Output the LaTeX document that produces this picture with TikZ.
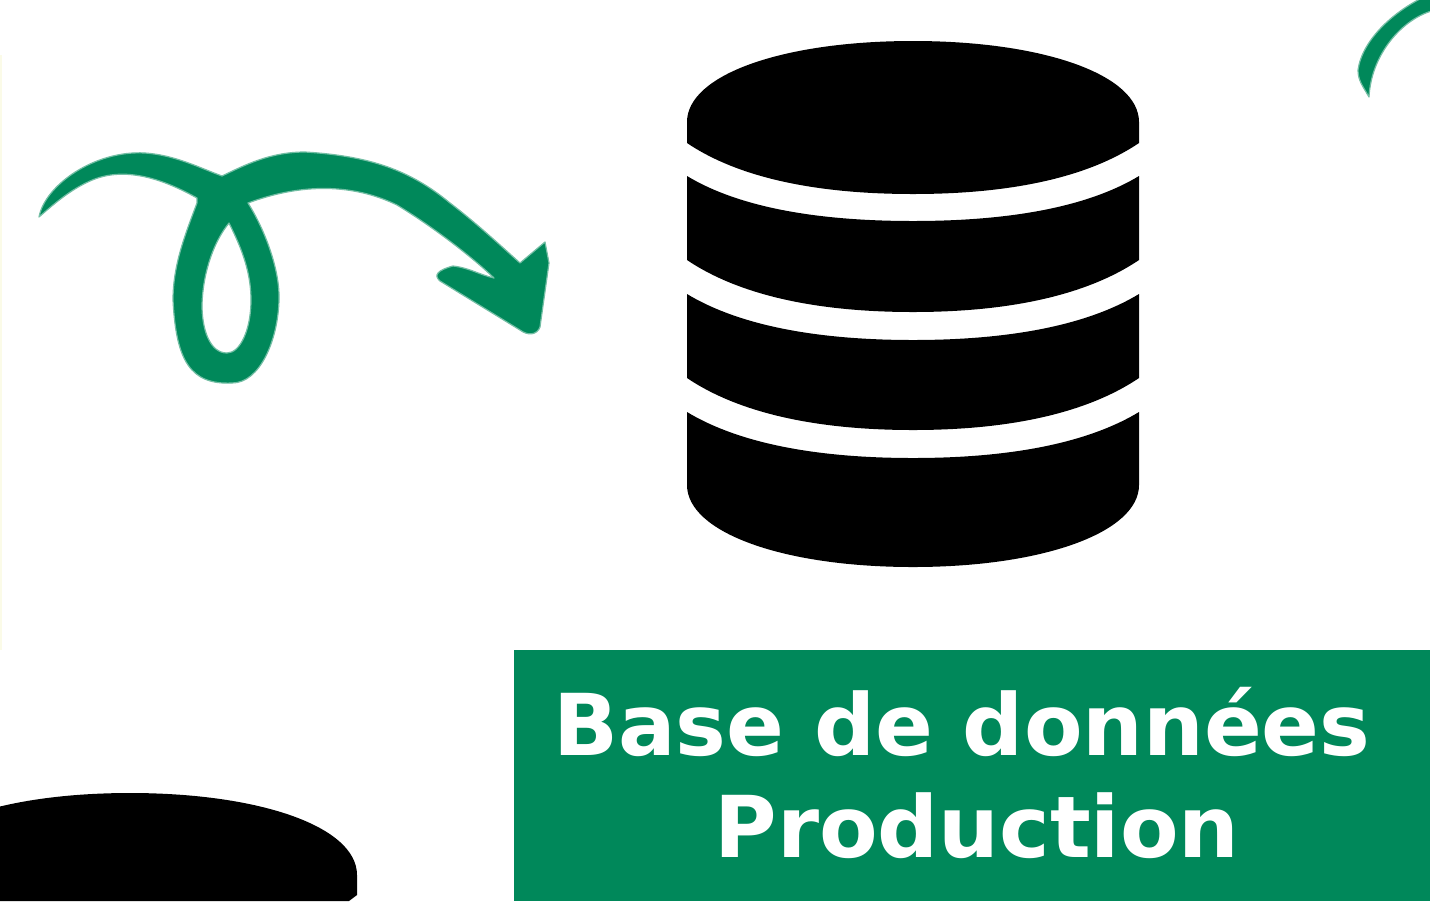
\documentclass[tikz,border=0pt]{standalone}
\usepackage{fontspec}
\setmainfont{DejaVu Sans}
\definecolor{brandgreen}{HTML}{00885A}
\definecolor{paleedge}{HTML}{FBFBE8}
\tikzset{
  disc/.style={fill=black},
  sketch/.style={fill=brandgreen,draw=brandgreen!55,line width=0.9pt,line join=round},
  banner/.style={fill=brandgreen,inner sep=0pt,minimum width=916*0.75pt,minimum height=251*0.75pt},
  bannertext/.style={text=white,inner sep=0pt,align=center,font=\fontsize{64pt}{76.5pt}\selectfont\bfseries}
}
\begin{document}
\begin{tikzpicture}[x=0.75pt,y=-0.75pt]
\clip (0,0) rectangle (1430,901);
\fill[white] (0,0) rectangle (1430,901);
\fill[paleedge] (0,55) rectangle (2,650);
% main database cylinder
\fill[disc] (687,143) -- (687,122) .. controls (687,75) and (782,41) .. (913,41) .. controls (1044,41) and (1139,75) .. (1139,122) -- (1139,143) .. controls (1096,172) and (1026,194) .. (913,194) .. controls (800,194) and (730,172) .. (687,143) -- cycle;
\fill[disc] (687,176) .. controls (730,202) and (800,221) .. (913,221) .. controls (1026,221) and (1096,202) .. (1139,176) -- (1139,260) .. controls (1096,289) and (1026,312) .. (913,312) .. controls (800,312) and (730,289) .. (687,260) -- cycle;
\fill[disc] (687,294) .. controls (730,320) and (800,340) .. (913,340) .. controls (1026,340) and (1096,320) .. (1139,294) -- (1139,378) .. controls (1096,407) and (1026,430) .. (913,430) .. controls (800,430) and (730,407) .. (687,378) -- cycle;
\fill[disc] (687,412) .. controls (730,438) and (800,458) .. (913,458) .. controls (1026,458) and (1096,438) .. (1139,412) -- (1139,485) .. controls (1139,532) and (1044,567) .. (913,567) .. controls (782,567) and (687,532) .. (687,485) -- cycle;
% cut-off cylinder, lower left
\fill[disc] (-96,901) -- (-96,875) .. controls (-96,827) and (-1,793) .. (130,793) .. controls (261,793) and (357,827) .. (357,875) -- (357,895) -- (349,901) -- cycle;
% looped arrow
\fill[sketch,even odd rule]
  (39,217) .. controls (45,185) and (95,150) .. (145,153) .. controls (175,155) and (200,168) .. (222,176)
  .. controls (245,165) and (270,152) .. (305,152) .. controls (370,156) and (410,170) .. (450,203) .. controls (475,222) and (500,245) .. (520,263)
  -- (545,242) -- (549,263) -- (540,327)
  .. controls (537,335) and (528,336) .. (520,330) -- (440,281)
  .. controls (433,275) and (438,270) .. (453,266) .. controls (470,268) and (480,275) .. (494,278)
  .. controls (470,255) and (430,225) .. (397,205) .. controls (360,187) and (310,180) .. (248,203)
  .. controls (265,230) and (280,270) .. (279,300) .. controls (278,340) and (260,383) .. (232,383)
  .. controls (190,385) and (176,360) .. (173,300) .. controls (173,265) and (185,235) .. (197,203)
  -- (197,198) .. controls (165,180) and (125,165) .. (90,181) .. controls (70,190) and (55,203) .. (39,217)
  -- cycle
  (229,223) .. controls (240,245) and (251,270) .. (251,300) .. controls (251,330) and (240,353) .. (227,353)
  .. controls (210,353) and (202,330) .. (202,305) .. controls (203,270) and (215,240) .. (229,223) -- cycle;
% arc entering at the top right
\fill[sketch]
  (1369,97) .. controls (1362,85) and (1358,80) .. (1358,70) .. controls (1362,40) and (1395,8) .. (1435,-8)
  -- (1435,10) .. controls (1402,18) and (1371,55) .. (1369,97) -- cycle;
% banner
\node[banner] (panel) at (972,775.5) {};
\node[bannertext] (label) at (972,773) {Base de données\kern15pt\\\kern7.5pt Production};
\end{tikzpicture}
\end{document}
